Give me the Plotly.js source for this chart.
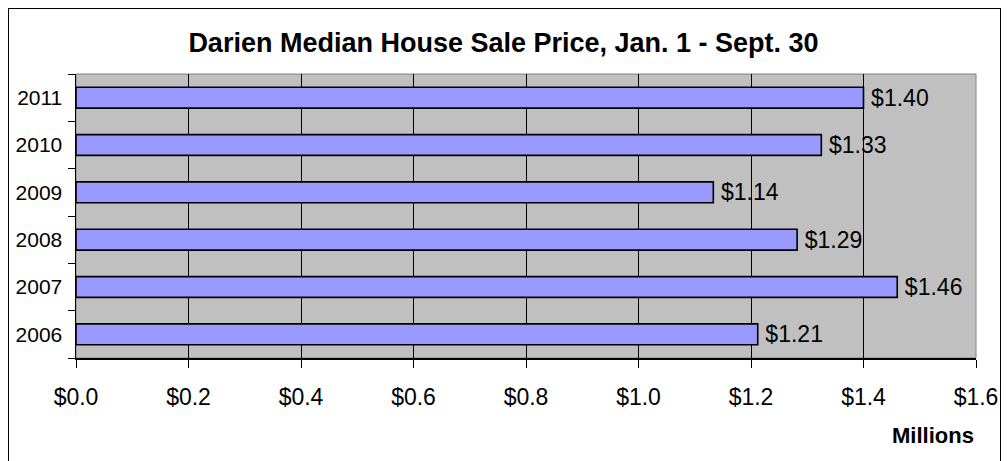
<!DOCTYPE html>
<html>
<head>
<meta charset="utf-8">
<script src="https://cdn.plot.ly/plotly-3.0.1.min.js"></script>
<style>
  html, body { margin: 0; padding: 0; background: #ffffff; }
  #wrap { position: relative; width: 1007px; height: 461px; overflow: hidden; }
  #chart { width: 1007px; height: 461px; }
  #frame { position: absolute; left: 8px; top: 8px; width: 993px; height: 480px;
           border: 1px solid #000; pointer-events: none; box-sizing: border-box; }
</style>
</head>
<body>
<div id="wrap">
  <div id="chart"></div>
  <div id="frame"></div>
</div>
<script>
// Data
const years = ['2006', '2007', '2008', '2009', '2010', '2011'];
const medianPrice = [1.212, 1.460, 1.282, 1.133, 1.325, 1.400]; // millions of dollars
const priceLabels = ['$1.21', '$1.46', '$1.29', '$1.14', '$1.33', '$1.40'];
const chartTitle = 'Darien Median House Sale Price, Jan. 1 - Sept. 30';
const unitLabel = 'Millions';

const FONT = 'Arial, "Liberation Sans", sans-serif';

const trace = {
  type: 'bar',
  orientation: 'h',
  y: years,
  x: medianPrice,
  text: priceLabels,
  texttemplate: '\u2009%{text}',
  textposition: 'outside',
  constraintext: 'none',
  cliponaxis: false,
  textfont: { family: FONT, size: 23, color: '#000000' },
  width: 0.44,
  marker: { color: '#9999FF', line: { color: '#000000', width: 1.6 } },
  hoverinfo: 'skip'
};

const layout = {
  width: 1007,
  height: 461,
  margin: { l: 76, r: 31, t: 74, b: 103 },
  paper_bgcolor: '#FFFFFF',
  plot_bgcolor: '#C0C0C0',
  showlegend: false,
  title: {
    text: '<b>' + chartTitle + '</b>',
    font: { family: FONT, size: 27, color: '#000000' },
    x: 0.5, xanchor: 'center',
    y: 1 - 43 / 461, yanchor: 'middle', yref: 'container'
  },
  xaxis: {
    range: [0, 1.6],
    dtick: 0.2,
    tick0: 0,
    tickprefix: '$',
    tickformat: '.1f',
    showgrid: true,
    gridcolor: '#000000',
    gridwidth: 1,
    zeroline: false,
    showline: true,
    linecolor: '#000000',
    linewidth: 1.5,
    ticks: 'outside',
    ticklen: 8,
    tickwidth: 1,
    tickcolor: '#000000',
    ticklabelstandoff: 10,
    tickfont: { family: FONT, size: 23, color: '#000000' },
    fixedrange: true
  },
  yaxis: {
    type: 'category',
    categoryorder: 'array',
    categoryarray: years,
    showgrid: false,
    zeroline: false,
    showline: true,
    linecolor: '#000000',
    linewidth: 1.5,
    ticks: 'outside',
    tickson: 'boundaries',
    ticklen: 7,
    tickwidth: 1,
    tickcolor: '#000000',
    ticklabelstandoff: 8,
    tickfont: { family: FONT, size: 21, color: '#000000' },
    fixedrange: true
  },
  shapes: [{
    type: 'rect', xref: 'paper', yref: 'paper',
    x0: 0, x1: 1, y0: 0, y1: 1,
    line: { color: '#808080', width: 1 },
    layer: 'below'
  }],
  annotations: [{
    text: '<b>' + unitLabel + '</b>',
    xref: 'paper', yref: 'paper',
    x: 1, xanchor: 'right',
    y: -77 / 284, yanchor: 'middle',
    showarrow: false,
    font: { family: FONT, size: 22, color: '#000000' }
  }]
};

Plotly.newPlot('chart', [trace], layout, { displayModeBar: false, staticPlot: true });
</script>
</body>
</html>
